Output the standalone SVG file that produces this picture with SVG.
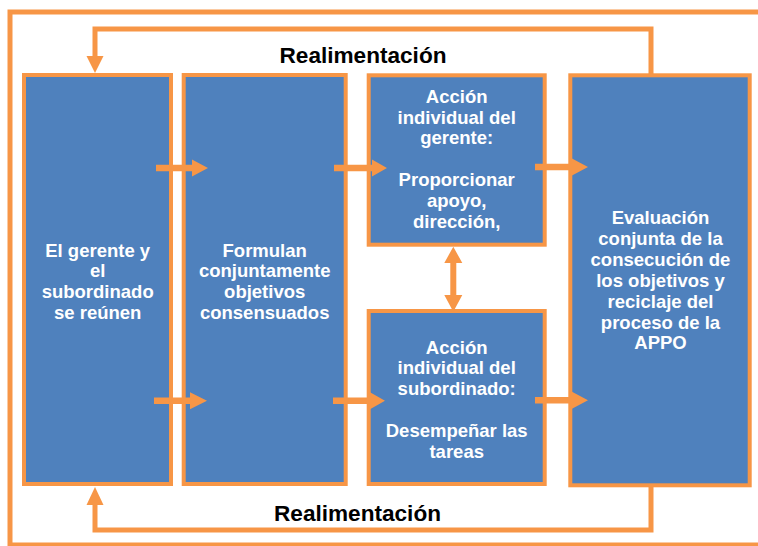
<svg xmlns="http://www.w3.org/2000/svg" width="758" height="546" viewBox="0 0 758 546">
<style>
.box{fill:#4F81BD;stroke:#F79646;stroke-width:4}
.t{font-family:"Liberation Sans",Arial,sans-serif;font-weight:bold;font-size:18.5px;fill:#FFFFFF;text-anchor:middle}
.fb{font-family:"Liberation Sans",Arial,sans-serif;font-weight:bold;font-size:22.6px;fill:#000000;text-anchor:middle}
.line{fill:none;stroke:#F79646;stroke-width:5}
.arr{fill:#F79646}
</style>
<rect width="758" height="546" fill="#FFFFFF"/>
<g id="connectors">
<path class="line" d="M758 12 H10 V545 H758"/>
<path class="line" d="M651 75 V29 H95 V58"/>
<polygon class="arr" points="86.5,56 103.5,56 95,73"/>
<path class="line" d="M651 485 V530 H95 V503"/>
<polygon class="arr" points="86.5,505 103.5,505 95,487"/>
</g>
<g id="n1">
<rect class="box" x="24" y="75" width="147" height="409"/>
<text class="t" x="97.7"><tspan x="97.7" y="256.5">El gerente y</tspan><tspan x="97.7" y="277.3">el</tspan><tspan x="97.7" y="298.1">subordinado</tspan><tspan x="97.7" y="318.9">se reúnen</tspan></text>
</g>
<g id="n2">
<rect class="box" x="183.7" y="75" width="162" height="409"/>
<text class="t" x="264.7"><tspan x="264.7" y="256.5">Formulan</tspan><tspan x="264.7" y="277.3">conjuntamente</tspan><tspan x="264.7" y="298.1">objetivos</tspan><tspan x="264.7" y="318.9">consensuados</tspan></text>
</g>
<g id="n3">
<rect class="box" x="368.7" y="75.3" width="176" height="169.4"/>
<text class="t"><tspan x="456.7" y="102.7">Acción</tspan><tspan x="456.7" y="123.5">individual del</tspan><tspan x="456.7" y="144.3">gerente:</tspan><tspan x="456.7" y="185.9">Proporcionar</tspan><tspan x="456.7" y="206.7">apoyo,</tspan><tspan x="456.7" y="227.5">dirección,</tspan></text>
</g>
<g id="n4">
<rect class="box" x="368.7" y="311" width="176" height="173"/>
<text class="t"><tspan x="456.7" y="353.5">Acción</tspan><tspan x="456.7" y="374.3">individual del</tspan><tspan x="456.7" y="395.1">subordinado:</tspan><tspan x="456.7" y="436.7">Desempeñar las</tspan><tspan x="456.7" y="457.5">tareas</tspan></text>
</g>
<g id="n5">
<rect class="box" x="570.3" y="75.3" width="179.4" height="410"/>
<text class="t"><tspan x="660.5" y="224">Evaluación</tspan><tspan x="660.5" y="244.9">conjunta de la</tspan><tspan x="660.5" y="265.8">consecución de</tspan><tspan x="660.5" y="286.7">los objetivos y</tspan><tspan x="660.5" y="307.6">reciclaje del</tspan><tspan x="660.5" y="328.5">proceso de la</tspan><tspan x="660.5" y="349.4">APPO</tspan></text>
</g>
<g id="arrows">
<polygon class="arr" points="156,164.7 192,164.7 192,159.5 208,168 192,176.5 192,171.3 156,171.3"/>
<polygon class="arr" points="334,164.7 372,164.7 372,159.5 387,168 372,176.5 372,171.3 334,171.3"/>
<polygon class="arr" points="535,163.7 572,163.7 572,158.5 588,167 572,175.5 572,170.3 535,170.3"/>
<polygon class="arr" points="154,397.4 190,397.4 190,392.2 207,400.7 190,409.2 190,404 154,404"/>
<polygon class="arr" points="333,397.4 370,397.4 370,392.2 385,400.7 370,409.2 370,404 333,404"/>
<polygon class="arr" points="535,397 572,397 572,391.8 588,400.3 572,408.8 572,403.6 535,403.6"/>
<polygon class="arr" points="453.3,246.7 462.3,263 456.3,263 456.3,295 462.3,295 453.3,311.7 444.3,295 450.3,295 450.3,263 444.3,263"/>
</g>
<g id="labels">
<text class="fb" x="363" y="63.3">Realimentación</text>
<text class="fb" x="357.5" y="521">Realimentación</text>
</g>
</svg>
